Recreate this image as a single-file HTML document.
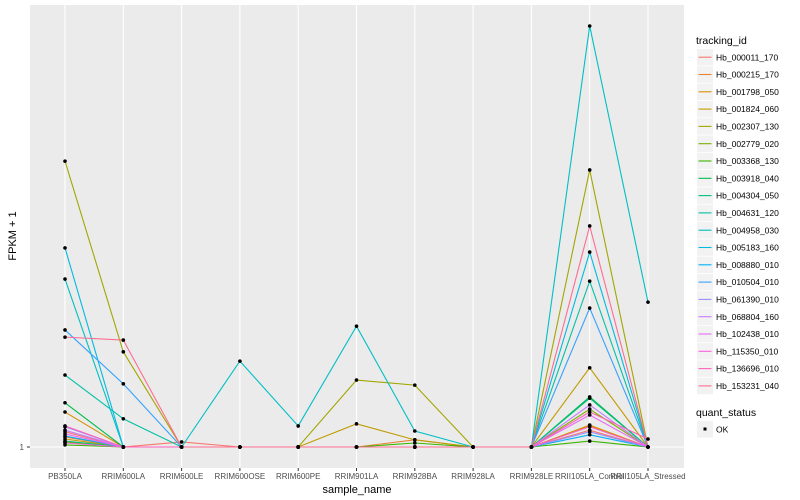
<!DOCTYPE html>
<html><head><meta charset="utf-8"><style>
body{margin:0;background:#fff;font-family:"Liberation Sans",sans-serif}
svg{display:block}
text{font-family:"Liberation Sans",sans-serif}
</style></head><body>
<svg id="chart" width="800" height="500" xmlns="http://www.w3.org/2000/svg">
<rect x="30" y="5" width="654" height="463" fill="#ebebeb"/>
<g id="grid"></g><g id="lines"></g><g id="pts"></g><g id="xt"></g><g id="legend"></g>
<text x="24" y="450" text-anchor="end" font-size="8" fill="#4d4d4d">1</text>
<line x1="27" x2="30" y1="447" y2="447" stroke="#333"/>
<text transform="translate(16,236) rotate(-90)" text-anchor="middle" font-size="11" fill="#000">FPKM + 1</text>
<text x="357" y="493" text-anchor="middle" font-size="11" fill="#000">sample_name</text>
</svg>
<script>
const samples=["PB350LA","RRIM600LA","RRIM600LE","RRIM600OSE","RRIM600PE","RRIM901LA","RRIM928BA","RRIM928LA","RRIM928LE","RRII105LA_Control","RRII105LA_Stressed"];
const ids=["Hb_000011_170","Hb_000215_170","Hb_001798_050","Hb_001824_060","Hb_002307_130","Hb_002779_020","Hb_003368_130","Hb_003918_040","Hb_004304_050","Hb_004631_120","Hb_004958_030","Hb_005183_160","Hb_008880_010","Hb_010504_010","Hb_061390_010","Hb_068804_160","Hb_102438_010","Hb_115350_010","Hb_136696_010","Hb_153231_040"];
const colors=["#F8766D","#EA8331","#D89000","#C09B00","#A3A500","#7CAE00","#39B600","#00BB4E","#00BF7D","#00C1A3","#00BFC4","#00BAE0","#00B0F6","#35A2FF","#9590FF","#C77CFF","#E76BF3","#FA62DB","#FF62BC","#FF6C91"];
const s01=[4.6,1,2.2,1,1,1,1,1,1,5.0,1];
const s02=[3.4,1,1,1,1,1,2.7,1,1,6.0,1];
const s03=[9.3,1,1,1,1,1,1,1,1,6.2,1];
const s04=[2.9,1,1,1,1,6.5,2.7,1,1,19.8,1];
const s05=[68.9,23.6,1,1,1,16.9,15.7,1,1,66.8,1];
const s06=[2.2,1,1,1,1,1,1,1,1,10.0,1];
const s07=[1.5,1,1,1,1,1,1.95,1,1,2.4,1];
const s08=[11.5,1,1,1,1,1,1,1,1,12.9,1];
const s09=[2.4,1,1,1,1,1,1,1,1,12.6,1];
const s10=[18.1,7.7,1,1,1,1,1,1,1,40.4,1];
const s11=[40.9,1,1,21.4,6.0,29.7,4.8,1,1,101,35.4];
const s12=[48.3,1,1,1,1,1,1,1,1,47.3,1];
const s13=[3.6,1,1,1,1,1,1,1,1,3.9,1];
const s14=[28.8,16.0,1,1,1,1,1,1,1,34.0,1];
const s15=[5.8,1,1,1,1,1,1,1,1,4.6,1];
const s16=[5.0,1,1,1,1,1,1,1,1,11.0,1];
const s17=[4.1,1,1,1,1,1,1,1,1,8.6,1];
const s18=[1.95,1,1,1,1,1,1,1,1,5.8,1];
const s19=[6.0,1,1,1,1,1,1,1,1,9.3,2.9];
const s20=[27.1,26.4,1,1,1,1,1,1,1,53.5,1];
const series=[s01,s02,s03,s04,s05,s06,s07,s08,s09,s10,s11,s12,s13,s14,s15,s16,s17,s18,s19,s20];
const NS="http://www.w3.org/2000/svg";
function X(i){return 65+i*58.3;}
function Y(v){return 447-(v-1)*4.21;}
function mk(tag,attrs,parent){const e=document.createElementNS(NS,tag);for(const k in attrs)e.setAttribute(k,attrs[k]);parent.appendChild(e);return e;}
const grid=document.getElementById('grid'),lines=document.getElementById('lines'),pts=document.getElementById('pts'),xt=document.getElementById('xt'),lg=document.getElementById('legend');
let g=mk('line',{x1:30,x2:684,y1:Y(1),y2:Y(1),stroke:'#fff','stroke-width':1.1},grid);


samples.forEach((s,i)=>{
  const l=mk('line',{x1:X(i),x2:X(i),y1:5,y2:468,stroke:'#fff','stroke-width':1.1},grid);
  
  
  const tk=mk('line',{x1:X(i),x2:X(i),y1:468,y2:471,stroke:'#333'},xt);
  
  
  const t=mk('text',{x:X(i),y:479,'text-anchor':'middle','font-size':8,fill:'#4d4d4d'},xt);
  t.textContent=s;
  
  
});
series.forEach((vals,k)=>{
  const p=mk('polyline',{points:vals.map((v,i)=>X(i)+','+Y(v)).join(' '),fill:'none',stroke:colors[k],'stroke-width':1.1},lines);
  
  
  vals.forEach((v,i)=>{
    const c=mk('circle',{cx:X(i),cy:Y(v),r:1.8,fill:'#000'},pts);
    
    
  });
});
let tt=mk('text',{x:696,y:44,'font-size':10.5,fill:'#000'},lg);tt.textContent='tracking_id';


ids.forEach((id,k)=>{
  const y=49+k*17.3;
  const b=mk('rect',{x:697,y:y,width:16,height:16.5,fill:'#f2f2f2'},lg);
  
  
  mk('line',{x1:698.5,x2:711.5,y1:y+8.2,y2:y+8.2,stroke:colors[k],'stroke-width':1.1},lg);
  const t=mk('text',{x:716,y:y+11.3,'font-size':8.5,fill:'#000'},lg);t.textContent=id;
  
  
});
let qt=mk('text',{x:696,y:416,'font-size':10.5,fill:'#000'},lg);qt.textContent='quant_status';


const qb=mk('rect',{x:697,y:421,width:16,height:16.5,fill:'#f2f2f2'},lg);


mk('rect',{x:703.5,y:427.5,width:3,height:3,fill:'#000'},lg);
const qo=mk('text',{x:716,y:432.5,'font-size':8.5,fill:'#000'},lg);qo.textContent='OK';


</script>
</body></html>
